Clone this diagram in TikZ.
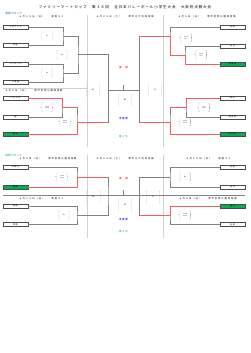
\documentclass[tikz,border=0pt]{standalone}
\usepackage{fontspec}
\setmainfont{Noto Sans CJK JP}
\usepackage{tikz}
\usepackage{xcolor}
\usetikzlibrary{positioning,calc}
\definecolor{winGreen}{RGB}{0,176,80}
\definecolor{lineRed}{RGB}{245,95,95}
\definecolor{lineGray}{RGB}{130,130,130}
\definecolor{blockBlue}{RGB}{0,112,192}
\definecolor{thirdGreen}{RGB}{40,150,90}

\begin{document}
\begin{tikzpicture}[x=0.84mm, y=-0.84mm,
    titlefont/.style={font=\fontsize{8.5}{9}\selectfont\addfontfeature{LetterSpace=25}},
    block/.style={anchor=west, font=\fontsize{6.5}{7}\selectfont},
    date/.style={anchor=west, font=\fontsize{5.5}{6}\selectfont\addfontfeature{LetterSpace=40}},
    team/.style={draw=gray!60!black, line width=0.5pt, minimum width=21mm, minimum height=3.4mm, inner sep=0pt, font=\fontsize{4.8}{5}\selectfont\addfontfeature{LetterSpace=25}},
    win/.style={team, fill=winGreen},
    score/.style={minimum width=8.5mm, minimum height=7mm, inner sep=0pt, align=center, font=\fontsize{3.5}{4}\selectfont},
    code/.style={score, minimum width=11mm, minimum height=10mm, font=\fontsize{4.5}{5}\selectfont},
    setnum/.style={inner sep=0.6pt, font=\fontsize{3.5}{4}\selectfont},
    sets/.style 2 args={label={[setnum]left:#1}, label={[setnum]right:#2}},
    lnk/.style={draw=lineGray, line width=0.5pt},
    wlnk/.style={draw=lineRed, line width=0.9pt},
    divider/.style={draw=gray!35, line width=0.4pt},
    res/.style={font=\fontsize{6}{6}\selectfont\addfontfeature{LetterSpace=20}}]
\useasboundingbox (0,0) rectangle (250,353);

% title and headers
\node[titlefont] (title) at (125,7) {ファミリーマートカップ　第３８回　全日本バレーボール小学生大会　大阪府決勝大会};
\node[block, text=blockBlue] (blkA) at (4,13) {東部ブロック};
\node[date] (dA1) at (18,17) {６月１９日（日）　　阪南ＳＣ};
\node[date] (dA2) at (95,17) {６月２５日（土）　　堺市立大浜体育館};
\node[date] (dA3) at (177,17) {６月５日（日）　　堺市金岡公園体育館};
\node[date] (dA4) at (4,91) {６月５日（日）　　堺市金岡公園体育館};
\node[block, text=winGreen] (blkB) at (4,155) {南部ブロック};
\node[date] (dB1) at (18,159) {６月５日（日）　　堺市金岡公園体育館};
\node[date] (dB2) at (95,159) {６月２５日（土）　　堺市立大浜体育館};
\node[date] (dB3) at (185,159) {６月１９日（日）　　阪南ＳＣ};
\node[date] (dB4) at (18,199) {６月１９日（日）　　阪南ＳＣ};
\node[date] (dB5) at (178,199) {６月５日（日）　　堺市金岡公園体育館};

% column rules
\draw[divider] (87,15) -- (87,147) (163,15) -- (163,147) (87,155) -- (87,238) (163,155) -- (163,238);
\draw[divider] (3,88) -- (87,88);
\draw[lnk] (3,195) -- (245,195);

% teams
\node[team] (ul1) at (15.5,27) {ＳＭＩＬＥ};
\node[team] (ul2) at (15.5,45) {円座};
\node[team] (ul3) at (15.5,64) {ハンターズ};
\node[team] (ul4) at (15.5,82) {三津屋};
\node[team] (lm1) at (15.5,97.7) {ハギスタ};
\node[team] (lm2) at (15.5,116.7) {畑};
\node[win] (lm3) at (15.5,134) {新家};
\node[team] (ur1) at (232.5,27) {山田};
\node[team] (ur2) at (232.5,46) {浜寺};
\node[win] (ur3) at (232.5,64) {熊取東};
\node[team] (rm1) at (232.5,97.7) {狭山};
\node[team] (rm2) at (232.5,116.7) {和泉田};
\node[win] (rm3) at (232.5,134) {泉北栄};
\node[team] (ll1) at (15.5,166.7) {交野台};
\node[win] (ll2) at (15.5,186.7) {東鳳};
\node[team] (lb1) at (15.5,205.7) {美原};
\node[team] (lb2) at (15.5,224.3) {西陵};
\node[team] (lr1) at (232.5,166.7) {池田};
\node[team] (lr2) at (232.5,186.7) {泉大};
\node[win] (lr3) at (232.5,205.7) {福泉};
\node[team] (lr4) at (232.5,224.3) {吉田};

% bracket points
\coordinate (pa1) at (63,36);
\coordinate (pa2) at (63,73);
\coordinate (qa) at (78,54.5);
\coordinate (pb) at (62,107.5);
\coordinate (qb) at (77,122);
\coordinate (pc) at (185,55);
\coordinate (qc) at (170,36.5);
\coordinate (pd) at (186,107.5);
\coordinate (qd) at (170,122);
\coordinate (sl) at (108,90);
\coordinate (sr) at (139,90);
\coordinate (fa) at (123.5,90);
\coordinate (pe) at (77,176.7);
\coordinate (pf) at (77,215);
\coordinate (pg) at (170,176.7);
\coordinate (ph) at (170,215);
\coordinate (tl) at (108,195);
\coordinate (tr) at (139.5,195);
\coordinate (fb) at (123.5,195);

% upper half
\draw[lnk] (ul1) -| (pa1) |- (ul2);
\draw[lnk] (ul3) -| (pa2) |- (ul4);
\draw[lnk] (pa1) -| (qa) |- (pa2);
\draw[lnk] (qa) -| (sl);
\draw[lnk] (lm1) -| (pb) |- (lm2);
\draw[lnk] (pb) -| (qb) |- (lm3);
\draw[lnk] (sl) |- (qb);
\draw[lnk] (ur2) -| (pc) |- (ur3);
\draw[lnk] (ur1) -| (qc) |- (pc);
\draw[lnk] (qc) -| (sr);
\draw[lnk] (rm1) -| (pd) |- (rm2);
\draw[lnk] (pd) -| (qd) |- (rm3);
\draw[lnk] (sr) |- (qd);
\draw[lnk] (sl) -- (sr);
\draw[lnk] (fa) -- ++(0,-5);
\draw[wlnk] (lm1) -| (pb) -- (pb -| qb);
\draw[wlnk] (lm3) -| (qb) -- (qb -| sl);
\draw[wlnk] (ur3) -| (pc) -| (qc) -- (qc -| sr);
\draw[wlnk] (rm1) -| (pd) -- (pd -| qd);
\draw[wlnk] (rm3) -| (qd) -- (qd -| sr);

% lower half
\draw[lnk] (ll1) -| (pe) |- (ll2);
\draw[lnk] (lb1) -| (pf) |- (lb2);
\draw[lnk] (lr1) -| (pg) |- (lr2);
\draw[lnk] (lr3) -| (ph) |- (lr4);
\draw[lnk] (pe) -| (tl) |- (pf);
\draw[lnk] (pg) -| (tr) |- (ph);
\draw[lnk] (fb) -- ++(0,-5);
\draw[wlnk] (ll2) -| (pe) -- (pe -| tl);
\draw[wlnk] (lr3) -| (ph) -- (ph -| tr);

% scores
\node[score] (sa1) at (47,36) {A2};
\node[score] (sa2) at (47,73) {A3};
\node[score] (sa3) at (62,54.5) {A4};
\node[score, sets={2}{0}] (sb1) at (47,107.5) {21-15\\21-18};
\node[score, sets={0}{2}] (sb2) at (65,122) {18-21\\12-21};
\node[score, sets={2}{0}] (sc1) at (201,55) {21-16\\21-9};
\node[score, sets={2}{0}] (sc2) at (186,38) {21-17\\21-8};
\node[score, sets={2}{0}] (sd1) at (204,107.5) {21-8\\21-6};
\node[score, sets={2}{0}] (sd2) at (185,122) {21-14\\21-12};
\node[score, sets={0}{2}] (se1) at (62,177) {15-21\\19-21};
\node[score] (se2) at (64,215) {B2};
\node[score] (sf1) at (185,177) {B3};
\node[score, sets={2}{0}] (sf2) at (185,215) {21-10\\21-13};
\node[code] (cA1) at (93,90) {A1};
\node[code] (cB1) at (125,100) {B1};
\node[code] (cC1) at (155,90) {C1};
\node[code] (cD1) at (93.5,197) {D1};
\node[code] (cE1) at (125,205) {E1};
\node[code] (cF1) at (153,197) {F1};
\foreach \s in {sa1,sa2,sa3,sb1,sb2,sc1,sc2,sd1,sd2,se1,se2,sf1,sf2,cA1,cB1,cC1,cD1,cE1,cF1}
  \draw[lnk, rounded corners=1.2pt] ([xshift=1.2pt]\s.north west) -- (\s.north west) -- (\s.south west) -- ([xshift=1.2pt]\s.south west)
    ([xshift=-1.2pt]\s.north east) -- (\s.north east) -- (\s.south east) -- ([xshift=-1.2pt]\s.south east);

% results
\node[res, text=red] (winA) at (123.5,68) {優　勝};
\node[res, text=blue] (runA) at (123.5,119) {準優勝};
\node[res, text=thirdGreen] (thrA) at (123.5,137) {第３位};
\node[res, text=red] (winB) at (123.5,179) {優　勝};
\node[res, text=blue] (runB) at (123.5,220) {準優勝};
\node[res, text=thirdGreen] (thrB) at (123.5,232) {第３位};
\end{tikzpicture}
\end{document}
